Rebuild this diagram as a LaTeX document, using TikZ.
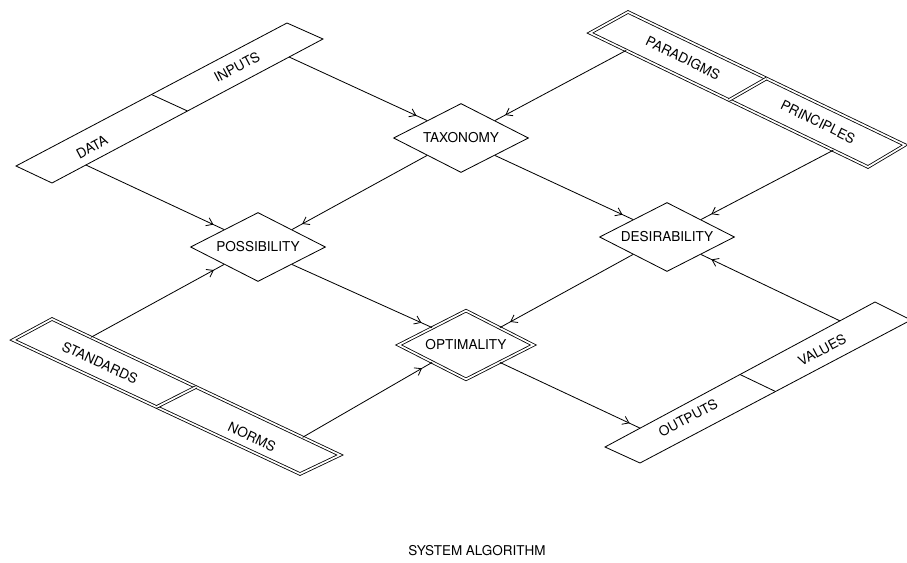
\documentclass[tikz,border=0pt]{standalone}
\usepackage{fontspec}
\setmainfont{TeX Gyre Heros}
\usetikzlibrary{shapes.geometric,arrows.meta,calc,decorations.markings}

\tikzset{
  box/.style={draw, shape=diamond, shape aspect=1.96, inner sep=0pt, minimum width=4.05cm, minimum height=2.07cm, font=\fontsize{11.6}{13}\selectfont},
  dbox/.style={box, double, double distance=1.5pt},
  bar/.style={draw, line join=miter},
  dbar/.style={bar, double, double distance=1.5pt},
  lbl/.style={font=\fontsize{11.6}{13}\selectfont, inner sep=1pt},
  flow/.style={postaction={decorate}, decoration={markings, mark=at position -0.35cm with {\arrow{Straight Barb[length=1.8mm,width=2.6mm]}}}}
}

\begin{document}
\begin{tikzpicture}[x=0.03cm, y=-0.03cm, line width=0.7pt]
\useasboundingbox (0,0) rectangle (907,562);
\draw[bar] (16,166) coordinate (dat1) -- (52,183) coordinate (dat2) -- (323,39) coordinate (inp2) -- (287,23) coordinate (inp1) -- cycle;
\draw[bar] ($(dat1)!.5!(inp1)$) -- ($(dat2)!.5!(inp2)$);
\node[lbl, rotate=28] (data) at (92,147) {DATA};
\node[lbl, rotate=28] (inputs) at (237,67) {INPUTS};
\coordinate (dataout) at ($(dat2)!.125!(inp2)$);
\coordinate (inputsout) at ($(dat2)!.875!(inp2)$);

\draw[dbar] (590,33) coordinate (par1) -- (628,12) coordinate (par2) -- (905,145) coordinate (pri2) -- (868,167) coordinate (pri1) -- cycle;
\draw[dbar] ($(par1)!.5!(pri1)$) -- ($(par2)!.5!(pri2)$);
\node[lbl, rotate=-26] (paradigms) at (683,58) {PARADIGMS};
\node[lbl, rotate=-26] (principles) at (818,122) {PRINCIPLES};
\coordinate (paradigmsout) at ($(par1)!.13!(pri1)$);
\coordinate (principlesout) at ($(par1)!.875!(pri1)$);

\draw[dbar] (13,340) coordinate (sta1) -- (52,319) coordinate (sta2) -- (340,455) coordinate (nor2) -- (300,474) coordinate (nor1) -- cycle;
\draw[dbar] ($(sta1)!.5!(nor1)$) -- ($(sta2)!.5!(nor2)$);
\node[lbl, rotate=-25] (standards) at (100,363) {STANDARDS};
\node[lbl, rotate=-25] (norms) at (252,437) {NORMS};
\coordinate (standardsout) at ($(sta2)!.135!(nor2)$);
\coordinate (normsout) at ($(sta2)!.87!(nor2)$);

\draw[bar] (605,447) coordinate (out1) -- (640,463) coordinate (out2) -- (911,320) coordinate (val2) -- (875,302) coordinate (val1) -- cycle;
\draw[bar] ($(out1)!.5!(val1)$) -- ($(out2)!.5!(val2)$);
\node[lbl, rotate=28] (outputs) at (688,418) {OUTPUTS};
\node[lbl, rotate=28] (values) at (822,350) {VALUES};
\coordinate (outputsin) at ($(out1)!.13!(val1)$);
\coordinate (valuesout) at ($(out1)!.87!(val1)$);

\node[box] (tax) at (461,138) {TAXONOMY};
\node[box] (pos) at (258,247) {POSSIBILITY};
\node[dbox] (opt) at (466,345) {OPTIMALITY};
\node[box] (des) at (667,237) {DESIRABILITY};

\draw[flow] (inputsout) -- (tax.north west);
\draw[flow] (paradigmsout) -- (tax.north east);
\draw[flow] (dataout) -- (pos.north west);
\draw[flow] (tax.south west) -- (pos.north east);
\draw[flow] (tax.south east) -- (des.north west);
\draw[flow] (principlesout) -- (des.north east);
\draw[flow] (standardsout) -- (pos.south west);
\draw[flow] (pos.south east) -- (opt.north west);
\draw[flow] (des.south west) -- (opt.north east);
\draw[flow] (normsout) -- (opt.south west);
\draw[flow] (opt.south east) -- (outputsin);
\draw[flow] (valuesout) -- (des.south east);

\node[lbl, font=\fontsize{11.5}{13}\selectfont] (title) at (477,551) {SYSTEM ALGORITHM};
\end{tikzpicture}
\end{document}
